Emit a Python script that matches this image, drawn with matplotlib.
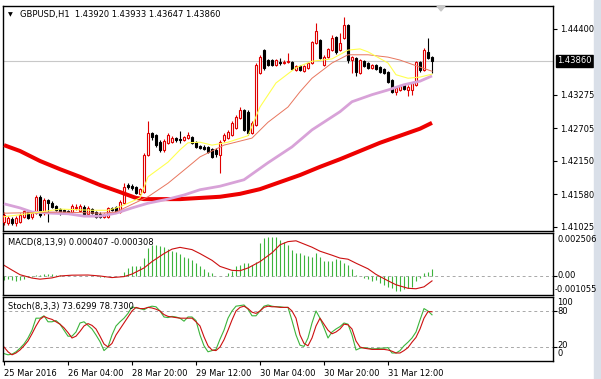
import matplotlib
matplotlib.use("Agg")
import matplotlib.pyplot as plt
import matplotlib.transforms as mtransforms
from matplotlib.patches import Rectangle, Polygon

# GBPUSD H1 candles (one bar per hour)
opens = [
    1.4111, 1.4109, 1.4116, 1.4109, 1.4111, 1.4120, 1.4128, 1.4120, 1.4126, 1.4154,
    1.4126, 1.4148, 1.4143, 1.4138, 1.4133, 1.4131, 1.4130, 1.4128, 1.4135, 1.4130,
    1.4137, 1.4125, 1.4133, 1.4128, 1.4125, 1.4120, 1.4120, 1.4135, 1.4137, 1.4128,
    1.4143, 1.4174, 1.4172, 1.4171, 1.4159, 1.4162, 1.4225, 1.4263, 1.4259, 1.4247,
    1.4234, 1.4246, 1.4247, 1.4254, 1.4253, 1.4251, 1.4254, 1.4256, 1.4247, 1.4241,
    1.4239, 1.4239, 1.4235, 1.4234, 1.4225, 1.4251, 1.4254, 1.4259, 1.4271, 1.4288,
    1.4302, 1.4299, 1.4263, 1.4276, 1.4365, 1.4404, 1.4387, 1.4387, 1.4379, 1.4384,
    1.4382, 1.4384, 1.4384, 1.4370, 1.4377, 1.4368, 1.4374, 1.4382, 1.4416, 1.4421,
    1.4379, 1.4392, 1.4404, 1.4426, 1.4404, 1.4425, 1.4447, 1.4387, 1.4391, 1.4365,
    1.4385, 1.4382, 1.4374, 1.4379, 1.4375, 1.4372, 1.4367, 1.4353, 1.4333, 1.4336,
    1.4345, 1.4336, 1.4336, 1.4345, 1.4384, 1.4370, 1.4401, 1.43920]
highs = [
    1.4128, 1.4121, 1.4120, 1.4121, 1.4126, 1.4133, 1.4131, 1.4130, 1.4157, 1.4157,
    1.4152, 1.4150, 1.4147, 1.4140, 1.4135, 1.4133, 1.4131, 1.4142, 1.4142, 1.4142,
    1.4140, 1.4138, 1.4135, 1.4130, 1.4128, 1.4126, 1.4137, 1.4137, 1.4138, 1.4148,
    1.4177, 1.4177, 1.4176, 1.4172, 1.4169, 1.4229, 1.4283, 1.4264, 1.4261, 1.4251,
    1.4253, 1.4263, 1.4258, 1.4256, 1.4266, 1.4258, 1.4264, 1.4258, 1.4249, 1.4242,
    1.4242, 1.4241, 1.4237, 1.4237, 1.4251, 1.4263, 1.4268, 1.4283, 1.4293, 1.4307,
    1.4304, 1.4302, 1.4283, 1.4382, 1.4396, 1.4406, 1.4389, 1.4389, 1.4389, 1.4391,
    1.4387, 1.4399, 1.4385, 1.4379, 1.4379, 1.4379, 1.4384, 1.4420, 1.4450, 1.4423,
    1.4396, 1.4408, 1.4430, 1.4428, 1.4433, 1.4460, 1.4449, 1.4394, 1.4392, 1.4389,
    1.4387, 1.4384, 1.4380, 1.4380, 1.4377, 1.4374, 1.4368, 1.4355, 1.4341, 1.4345,
    1.4346, 1.4345, 1.4350, 1.4385, 1.4385, 1.4408, 1.4425, 1.43933]
lows = [
    1.4106, 1.4106, 1.4106, 1.4104, 1.4109, 1.4118, 1.4116, 1.4116, 1.4125, 1.4120,
    1.4123, 1.4111, 1.4135, 1.4130, 1.4123, 1.4125, 1.4125, 1.4126, 1.4131, 1.4128,
    1.4121, 1.4123, 1.4125, 1.4118, 1.4118, 1.4118, 1.4118, 1.4130, 1.4126, 1.4126,
    1.4142, 1.4167, 1.4166, 1.4159, 1.4157, 1.4160, 1.4224, 1.4251, 1.4239, 1.4230,
    1.4230, 1.4244, 1.4246, 1.4247, 1.4246, 1.4249, 1.4253, 1.4244, 1.4237, 1.4235,
    1.4234, 1.4229, 1.4220, 1.4222, 1.4195, 1.4247, 1.4253, 1.4258, 1.4270, 1.4287,
    1.4266, 1.4259, 1.4261, 1.4275, 1.4363, 1.4370, 1.4377, 1.4377, 1.4377, 1.4379,
    1.4380, 1.4382, 1.4370, 1.4368, 1.4368, 1.4367, 1.4372, 1.4380, 1.4414, 1.4389,
    1.4377, 1.4391, 1.4403, 1.4397, 1.4403, 1.4423, 1.4382, 1.4365, 1.4360, 1.4363,
    1.4375, 1.4372, 1.4372, 1.4370, 1.4365, 1.4363, 1.4348, 1.4331, 1.4328, 1.4334,
    1.4336, 1.4326, 1.4328, 1.4343, 1.4367, 1.4368, 1.4389, 1.43647]
closes = [
    1.4123, 1.4118, 1.4109, 1.4118, 1.4123, 1.4130, 1.4118, 1.4126, 1.4154, 1.4123,
    1.4148, 1.4143, 1.4137, 1.4131, 1.4126, 1.4126, 1.4126, 1.4138, 1.4137, 1.4138,
    1.4123, 1.4135, 1.4126, 1.4120, 1.4120, 1.4125, 1.4135, 1.4131, 1.4128, 1.4145,
    1.4171, 1.4171, 1.4169, 1.4160, 1.4167, 1.4225, 1.4263, 1.4256, 1.4242, 1.4234,
    1.4249, 1.4259, 1.4254, 1.4251, 1.4251, 1.4256, 1.4259, 1.4246, 1.4239, 1.4237,
    1.4235, 1.4230, 1.4222, 1.4227, 1.4247, 1.4259, 1.4264, 1.4280, 1.4290, 1.4302,
    1.4268, 1.4263, 1.4280, 1.4379, 1.4392, 1.4374, 1.4379, 1.4379, 1.4387, 1.4382,
    1.4384, 1.4385, 1.4372, 1.4377, 1.4370, 1.4377, 1.4382, 1.4418, 1.4437, 1.4391,
    1.4392, 1.4406, 1.4425, 1.4401, 1.4416, 1.4447, 1.4387, 1.4392, 1.4367, 1.4387,
    1.4377, 1.4374, 1.4379, 1.4372, 1.4367, 1.4365, 1.4350, 1.4333, 1.4339, 1.4343,
    1.4338, 1.4341, 1.4348, 1.4384, 1.4370, 1.4404, 1.4391, 1.43860]

# moving averages (bar index, price) read at points along each line
ma_slow_bars = [0, 4, 9, 14, 19, 24, 29, 33, 35, 39, 44, 49, 54, 59, 64, 69, 74, 79, 84, 89, 94, 99, 104, 107]
ma_slow_vals = [1.4242, 1.4232, 1.4215, 1.4201, 1.4188, 1.4174, 1.4162, 1.4152, 1.4150, 1.4150, 1.4150,
                1.4152, 1.4154, 1.4159, 1.4167, 1.4179, 1.4191, 1.4205, 1.4218, 1.4232, 1.4246,
                1.4258, 1.4270, 1.4280]
ma_mid_bars = [0, 4, 7, 12, 16, 20, 24, 28, 32, 36, 41, 45, 49, 54, 60, 66, 72, 77, 84, 87, 92, 96, 100, 104, 107]
ma_mid_vals = [1.4142, 1.4135, 1.4128, 1.4126, 1.4125, 1.4121, 1.4121, 1.4126, 1.4135, 1.4143, 1.4150,
               1.4157, 1.4166, 1.4172, 1.4183, 1.4212, 1.4239, 1.4268, 1.4299, 1.4316, 1.4328,
               1.4336, 1.4345, 1.4351, 1.4360]
ma_fast_bars = [0, 6, 14, 22, 26, 29, 34, 36, 41, 44, 46, 49, 52, 56, 61, 64, 68, 73, 77, 82, 86, 89, 91, 96, 98, 101, 104, 107]
ma_fast_vals = [1.4120, 1.4125, 1.4133, 1.4131, 1.4131, 1.4137, 1.4152, 1.4188, 1.4213, 1.4234, 1.4246,
                1.4247, 1.4242, 1.4247, 1.4258, 1.4307, 1.4348, 1.4374, 1.4385, 1.4389, 1.4404,
                1.4406, 1.4401, 1.4382, 1.4362, 1.4356, 1.4358, 1.4363]
ma_thin_bars = [0, 14, 24, 28, 36, 41, 46, 49, 55, 62, 66, 71, 74, 77, 82, 86, 91, 96, 99, 104, 107]
ma_thin_vals = [1.4126, 1.4128, 1.4126, 1.4128, 1.4154, 1.4177, 1.4205, 1.4222, 1.4242, 1.4254, 1.4281,
                1.4307, 1.4333, 1.4356, 1.4382, 1.4396, 1.4396, 1.4392, 1.4387, 1.4375, 1.4368]

price_ticks = [1.44400, 1.43275, 1.42705, 1.42150, 1.41580, 1.41025]
last_price = 1.43860

# MACD(8,13,9)
macd_hist = [
    -0.00025, -0.00021, -0.00025, -0.00029, -0.00025, -0.00017, -0.00008, -0.00004, 0.00008, 0.00008,
    0.00012, 0.00012, 0.00010, 0.00006, 0.00004, 0.00002, 0.00001, 0.00002, 0.00002, 0.00002,
    0.00000, 0.00001, -0.00001, -0.00003, -0.00004, -0.00004, -0.00002, -0.00002, -0.00002, 0.00002,
    0.00027, 0.00048, 0.00063, 0.00063, 0.00063, 0.00110, 0.00173, 0.00194, 0.00194, 0.00188,
    0.00179, 0.00167, 0.00158, 0.00152, 0.00137, 0.00121, 0.00110, 0.00100, 0.00079, 0.00063,
    0.00042, 0.00027, 0.00017, 0.00000, 0.00002, 0.00002, 0.00017, 0.00033, 0.00063, 0.00069,
    0.00079, 0.00079, 0.00069, 0.00090, 0.00204, 0.00235, 0.00246, 0.00242, 0.00242, 0.00225,
    0.00215, 0.00194, 0.00162, 0.00142, 0.00146, 0.00131, 0.00125, 0.00121, 0.00142, 0.00117,
    0.00096, 0.00096, 0.00096, 0.00104, 0.00100, 0.00079, 0.00069, 0.00042, 0.00004, 0.00002,
    -0.00015, -0.00021, -0.00029, -0.00025, -0.00046, -0.00056, -0.00067, -0.00077, -0.00092, -0.00092,
    -0.00083, -0.00077, -0.00067, -0.00029, -0.00015, 0.00021, 0.00027, 0.000407]
macd_sig_bars = [0, 2, 4, 7, 9, 12, 14, 17, 21, 24, 27, 30, 32, 35, 37, 40, 42, 44, 47, 49, 52, 54, 57, 59,
                 61, 64, 67, 69, 71, 73, 74, 77, 79, 82, 84, 86, 88, 91, 93, 96, 98, 101, 103, 105, 107]
macd_sig_vals = [0.00067, 0.00037, 0.00008, -0.00013, -0.00020, -0.00012, 0.00000, 0.00005, 0.00006, 0.00000,
                 -0.00010, -0.00004, 0.00012, 0.00050, 0.00090, 0.00140, 0.00168, 0.00179, 0.00165, 0.00140,
                 0.00098, 0.00060, 0.00035, 0.00033, 0.00050, 0.00090, 0.00145, 0.00195, 0.00215, 0.00220,
                 0.00210, 0.00180, 0.00155, 0.00130, 0.00112, 0.00105, 0.00080, 0.00045, 0.00010, -0.00030,
                 -0.00055, -0.00077, -0.00080, -0.00068, -0.000308]

# Stoch(8,3,3)
stoch_main = [
    9, 7, 8, 12, 18, 25, 35, 48, 68, 68,
    72, 62, 62, 64, 58, 48, 38, 38, 45, 60,
    62, 56, 50, 40, 29, 14, 20, 40, 55, 62,
    68, 76, 87, 85, 84, 82, 86, 88, 87, 80,
    70, 69, 71, 70, 68, 63, 70, 70, 64, 40,
    22, 12, 14, 16, 33, 48, 68, 80, 88, 89,
    90, 83, 72, 72, 80, 88, 90, 88, 87, 87,
    86, 86, 64, 40, 23, 21, 35, 60, 80, 68,
    52, 35, 45, 50, 54, 60, 58, 40, 15, 18,
    19, 18, 17, 17, 18, 18, 19, 10, 10, 14,
    22, 28, 35, 45, 65, 84, 80, 73.63]
stoch_signal = [
    20, 12, 7, 10, 15, 22, 30, 42, 55, 66,
    71, 68, 66, 62, 58, 52, 44, 35, 38, 46,
    55, 59, 56, 50, 38, 25, 20, 26, 40, 50,
    60, 70, 80, 86, 84, 84, 86, 85, 83, 80,
    74, 71, 70, 69, 68, 68, 68, 68, 62, 55,
    37, 22, 15, 14, 20, 32, 48, 65, 80, 86,
    88, 84, 78, 76, 80, 86, 88, 87, 87, 86,
    86, 86, 80, 68, 40, 26, 22, 35, 55, 68,
    58, 48, 42, 45, 50, 58, 57, 50, 30, 20,
    18, 17, 16, 16, 16, 16, 15, 13, 10, 10,
    14, 19, 28, 36, 50, 68, 79, 78.73]

date_bars = [0, 16, 32, 48, 64, 80, 96]
date_labels = ['25 Mar 2016', '26 Mar 04:00', '28 Mar 20:00', '29 Mar 12:00',
               '30 Mar 04:00', '30 Mar 20:00', '31 Mar 12:00']

W, H = 601, 379
FS = 6.0
BULL = '#e00000'
GREEN = '#3cb43c'


def box(left, top, right, bottom):
    # pixel box -> figure fraction
    return [left / W, 1 - bottom / H, (right - left) / W, (bottom - top) / H]


def ptext(x, y, s, size=FS, **kw):
    fig.text(x / W, 1 - y / H, s, fontsize=size, va='center', **kw)


fig = plt.figure(figsize=(W / 100, H / 100), dpi=100)
fig.patch.set_facecolor('white')

ax = fig.add_axes(box(3, 5.5, 553, 230.5))
ax_macd = fig.add_axes(box(3, 232.5, 553, 295))
ax_st = fig.add_axes(box(3, 297, 553, 360.5))

for a in (ax, ax_macd, ax_st):
    a.set_xlim(-0.25, 137.25)
    for s in a.spines.values():
        s.set_linewidth(1.0)
        s.set_color('black')
    a.yaxis.tick_right()
    a.tick_params(axis='y', length=3, width=0.8, pad=2, labelsize=FS)

# main price window
ax.set_ylim(1.40965, 1.44800)
ax.axhline(last_price, color='#c8c8c8', lw=0.8, zorder=0)
for i in range(len(closes)):
    o, h, l, c = opens[i], highs[i], lows[i], closes[i]
    bull = c >= o
    col = BULL if bull else 'black'
    ax.vlines(i, l, h, color=col, lw=0.8, zorder=2)
    ax.add_patch(Rectangle((i - 0.28, min(o, c)), 0.56, max(abs(c - o), 0.00002),
                           facecolor='white' if bull else 'black', edgecolor=col, lw=0.8, zorder=3))

ax.plot(ma_slow_bars, ma_slow_vals, color='#ee0000', lw=2.9, zorder=4, solid_capstyle='butt')
ax.plot(ma_mid_bars, ma_mid_vals, color='#d8a2d8', lw=2.0, zorder=4, solid_capstyle='butt')
ax.plot(ma_thin_bars, ma_thin_vals, color='#e8765e', lw=0.7, zorder=4)
ax.plot(ma_fast_bars, ma_fast_vals, color='#ffff50', lw=0.8, zorder=4)

ax.set_xticks([])
ax.set_yticks(price_ticks)
ax.set_yticklabels(['%.5f' % p for p in price_ticks])
blend = mtransforms.blended_transform_factory(ax.transAxes, ax.transData)
ax.text(1.0075, last_price, '%.5f' % last_price, transform=blend, fontsize=FS, color='white',
        va='center', ha='left', bbox=dict(facecolor='black', edgecolor='black', pad=1.0))

ptext(8, 14.5, '\u25bc', size=4.5)
ptext(20, 15, 'GBPUSD,H1  1.43920 1.43933 1.43647 1.43860')

# MACD window
ax_macd.set_ylim(-0.00119, 0.00272)
ax_macd.axhline(0, color='#a8a8a8', lw=0.7, ls=(0, (3, 3)), zorder=0)
ax_macd.vlines(range(len(macd_hist)), 0, macd_hist, color=GREEN, lw=0.8)
ax_macd.plot(macd_sig_bars, macd_sig_vals, color='#cc1010', lw=0.8)
ax_macd.set_xticks([])
ax_macd.set_yticks([0])
ax_macd.set_yticklabels([''])
ptext(8, 242, 'MACD(8,13,9) 0.000407 -0.000308')
ptext(557, 239, '0.002506')
ptext(557, 276, '0.00')
ptext(555, 289, '-0.001055')

# Stochastic window
ax_st.set_ylim(-2.5, 103.3)
for lv in (80, 20):
    ax_st.axhline(lv, color='#a8a8a8', lw=0.7, ls=(0, (3, 3)), zorder=0)
ax_st.plot(range(len(stoch_main)), stoch_main, color=GREEN, lw=0.8)
ax_st.plot(range(len(stoch_signal)), stoch_signal, color='#cc1010', lw=0.8)
ax_st.set_yticks([80, 20])
ax_st.set_yticklabels(['', ''])
ptext(8, 306, 'Stoch(8,3,3) 73.6299 78.7300')
ptext(557, 302.5, '100')
ptext(557, 312, '80')
ptext(557, 345.5, '20')
ptext(557, 354, '0')

ax_st.set_xticks(date_bars)
ax_st.set_xticklabels(date_labels, ha='left')
ax_st.tick_params(axis='x', length=3, width=0.8, pad=3, labelsize=FS)

# window chrome: chart-shift marker and right border strip
fig.add_artist(Polygon([(437 / W, 1 - 6 / H), (445 / W, 1 - 6 / H), (441 / W, 1 - 11 / H)],
                       closed=True, transform=fig.transFigure, color='#c8c8c8'))
fig.add_artist(Rectangle((594 / W, 0), 7 / W, 1, transform=fig.transFigure, color='#d9dfe8'))

fig.savefig('out.png', dpi=100)
